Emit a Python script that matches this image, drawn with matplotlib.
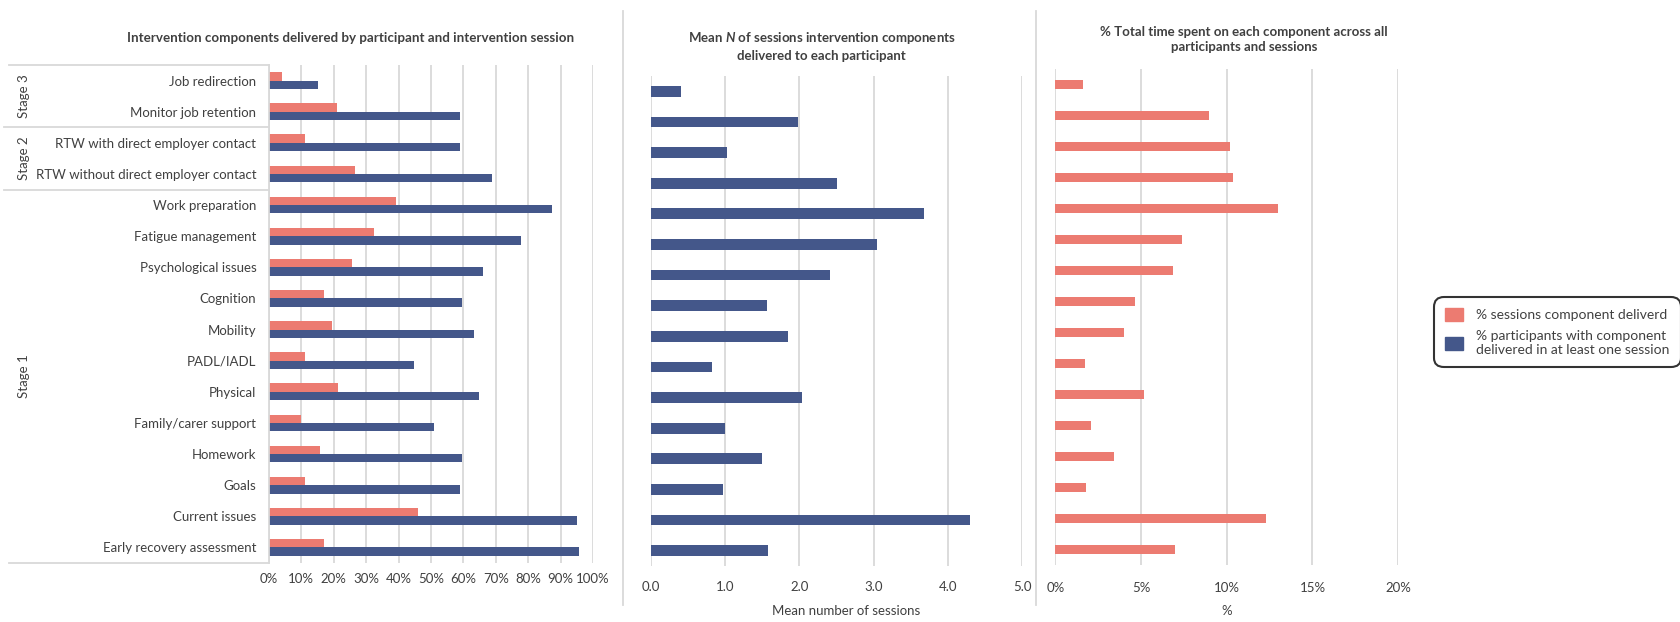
import numpy as np
import matplotlib
matplotlib.use("Agg")
import matplotlib.pyplot as plt
from matplotlib.lines import Line2D
from matplotlib.patches import Patch

plt.rcParams['font.family'] = ['Lato', 'DejaVu Sans']
plt.rcParams['mathtext.fontset'] = 'custom'
plt.rcParams['mathtext.rm'] = 'Lato:bold'
plt.rcParams['mathtext.it'] = 'Lato:bold:italic'

components = ["Job redirection", "Monitor job retention",
              "RTW with direct employer contact", "RTW without direct employer contact",
              "Work preparation", "Fatigue management", "Psychological issues",
              "Cognition", "Mobility", "PADL/IADL", "Physical",
              "Family/carer support", "Homework", "Goals", "Current issues",
              "Early recovery assessment"]
stages = ["Stage 3", "Stage 2", "Stage 1"]
stage_sizes = [2, 2, 12]

pct_sessions = [4.0, 21.0, 11.1, 26.6, 39.1, 32.4, 25.6, 17.0,
                19.5, 11.1, 21.3, 9.9, 15.7, 11.1, 46.0, 17.0]
pct_participants = [15.1, 58.9, 58.9, 68.8, 87.3, 77.8, 66.1, 59.5,
                    63.3, 44.8, 64.8, 51.0, 59.5, 58.9, 95.0, 95.6]
mean_sessions = [0.40, 1.98, 1.03, 2.51, 3.68, 3.05, 2.41, 1.56,
                 1.85, 0.82, 2.04, 1.00, 1.50, 0.97, 4.30, 1.58]
pct_time = [1.62, 8.97, 10.18, 10.37, 12.99, 7.40, 6.87, 4.64,
            4.01, 1.74, 5.18, 2.08, 3.43, 1.79, 12.29, 6.99]

RED = '#EC7B71'
BLUE = '#44578A'
GRID = '#D9D9D9'
TXT = '#404040'
W, H = 1680, 622

fig = plt.figure(figsize=(W / 100, H / 100), dpi=100)


def px_axes(x0, x1, ytop, ybot):
    return fig.add_axes([x0 / W, 1 - ybot / H, (x1 - x0) / W, (ybot - ytop) / H])


def style(ax, ticks, fmt, pad):
    ax.set_xticks(ticks)
    ax.set_xticklabels([fmt(t) for t in ticks])
    ax.grid(axis='x', color=GRID, lw=1.3)
    ax.set_axisbelow(True)
    for s in ax.spines.values():
        s.set_visible(False)
    ax.tick_params(axis='x', length=0, pad=pad, labelsize=9.5, labelcolor=TXT)
    ax.set_ylim(len(components) - 0.5, -0.5)


y = np.arange(len(components))

# left: % sessions / % participants
ax1 = px_axes(268.9, 593.1, 65, 563)
ax1.barh(y - 0.135, pct_sessions, height=0.27, color=RED)
ax1.barh(y + 0.135, pct_participants, height=0.27, color=BLUE)
ax1.set_xlim(0, 100)
style(ax1, np.arange(0, 101, 10), lambda t: f"{t:.0f}%", 7)
ax1.set_yticks(y)
ax1.set_yticklabels(components)
ax1.tick_params(axis='y', length=0, pad=9, labelsize=9.5, labelcolor=TXT)

# multi-level category axis
tr = ax1.get_yaxis_transform()
xl = lambda px: (px - 268.9) / 324.2
bounds = np.cumsum([0] + stage_sizes) - 0.5
ax1.plot([0, 0], [bounds[0], bounds[-1]], color=GRID, lw=1.3, transform=tr, clip_on=False)
for i, b in enumerate(bounds):
    x0 = xl(9) if i in (0, len(bounds) - 1) else xl(4)
    ax1.plot([x0, 0], [b, b], color=GRID, lw=1.3, transform=tr, clip_on=False)
for i, st in enumerate(stages):
    ax1.text(xl(24.5), (bounds[i] + bounds[i + 1]) / 2, st, rotation=90,
             ha='center', va='center', fontsize=9.5, color=TXT, transform=tr)

# middle: mean number of sessions
ax2 = px_axes(651, 1022, 76, 566)
ax2.barh(y, mean_sessions, height=0.35, color=BLUE)
ax2.set_xlim(0, 5)
style(ax2, np.arange(0, 5.1, 1), lambda t: f"{t:.1f}", 11)
ax2.set_yticks([])
ax2.set_xlabel("Mean number of sessions", fontsize=9.5, color=TXT)
ax2.xaxis.set_label_coords(0.525, -0.08)

# right: % total time
ax3 = px_axes(1055.3, 1398.2, 69, 565)
ax3.barh(y, pct_time, height=0.28, color=RED)
ax3.set_xlim(0, 20)
style(ax3, np.arange(0, 21, 5), lambda t: f"{t:.0f}%", 12)
ax3.set_yticks([])
ax3.set_xlabel("%", fontsize=9.5, color=TXT)
ax3.xaxis.set_label_coords(0.5, -0.08)

# titles
fig.text(350.8 / W, 1 - 38 / H,
         "Intervention components delivered by participant and intervention session",
         ha='center', va='center', fontsize=9.6, fontweight='bold', color=TXT)
fig.text(821.7 / W, 1 - 46 / H,
         "Mean $\\mathit{N}$ of sessions intervention components\ndelivered to each participant",
         ha='center', va='center', fontsize=9.5, fontweight='bold', color=TXT,
         linespacing=1.3)
fig.text(1244 / W, 1 - 39.5 / H,
         "% Total time spent on each component across all\nparticipants and sessions",
         ha='center', va='center', fontsize=9.5, fontweight='bold', color=TXT,
         linespacing=1.3)

# panel separators
for xs in (623, 1036):
    fig.add_artist(Line2D([xs / W, xs / W], [1 - 11 / H, 1 - 605 / H],
                          color=GRID, lw=1.3))

handles = [Patch(color=RED), Patch(color=BLUE)]
leg = fig.legend(handles, ["% sessions component deliverd",
                           "% participants with component\ndelivered in at least one session"],
                 loc='upper left', bbox_to_anchor=(1434 / W, 1 - 297 / H),
                 fontsize=10, frameon=True, fancybox=True, edgecolor='black',
                 handlelength=1.3, handleheight=1.0, handletextpad=0.95,
                 borderpad=0.8, labelspacing=0.65, borderaxespad=0)
leg.get_frame().set_linewidth(1.5)
leg.get_frame().set_boxstyle('round', pad=0, rounding_size=0.7)
for t in leg.get_texts():
    t.set_color(TXT)

fig.savefig("out.png", dpi=100)
